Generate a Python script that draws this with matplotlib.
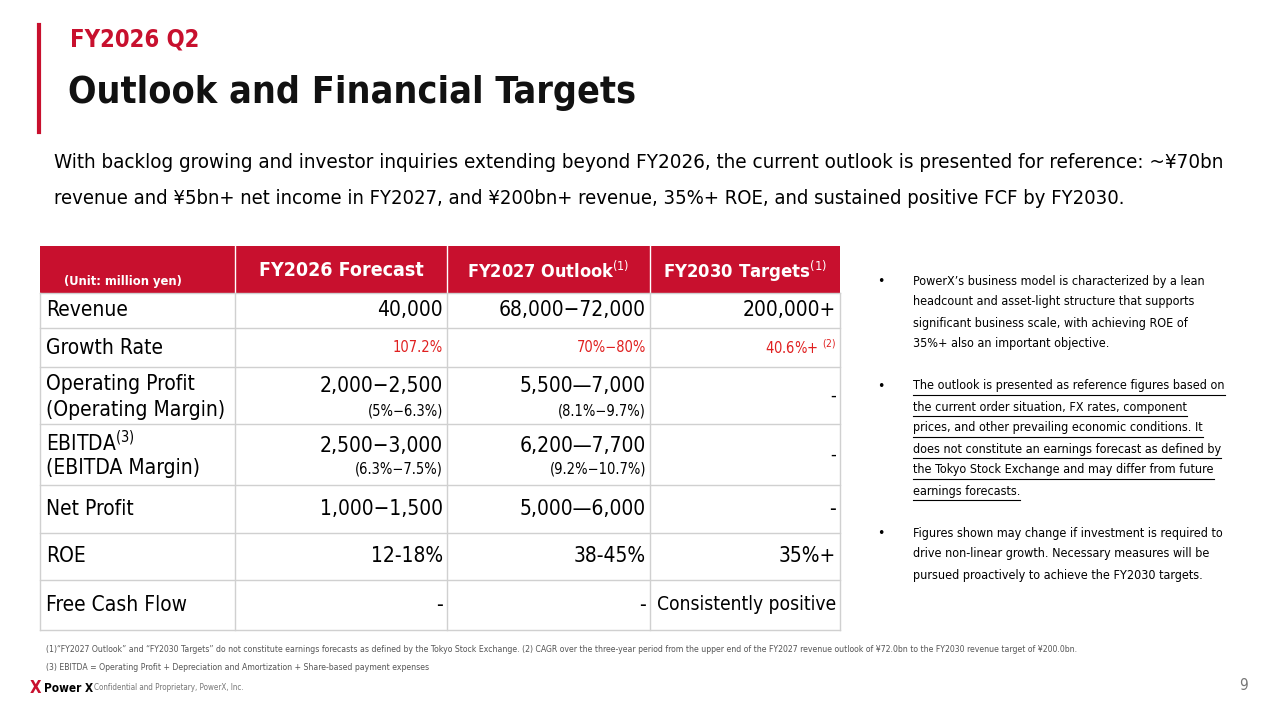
import matplotlib.pyplot as plt
from matplotlib.patches import Rectangle

plt.rcParams['font.family'] = ['DejaVu Sans Condensed', 'Liberation Sans Narrow', 'DejaVu Sans']
plt.rcParams['font.stretch'] = 'condensed'

RED = '#C8102E'
GRID = '#D0D0D0'

kicker = "FY2026 Q2"
title = "Outlook and Financial Targets"
lead = ["With backlog growing and investor inquiries extending beyond FY2026, the current outlook is presented for reference: ~¥70bn",
        "revenue and ¥5bn+ net income in FY2027, and ¥200bn+ revenue, 35%+ ROE, and sustained positive FCF by FY2030."]

headers = ["FY2026 Forecast", "FY2027 Outlook", "FY2030 Targets"]
header_sup = ["", "(1)", "(1)"]
row_labels = [["Revenue"], ["Growth Rate"], ["Operating Profit", "(Operating Margin)"],
              ["EBITDA$^{(3)}$", "(EBITDA Margin)"], ["Net Profit"], ["ROE"], ["Free Cash Flow"]]
main_vals = [["40,000", "68,000\u221272,000", "200,000+"],
             ["107.2%", "70%\u221280%", "40.6%+ $^{(2)}$"],
             ["2,000\u22122,500", "5,500\u20147,000", "-"],
             ["2,500\u22123,000", "6,200\u20147,700", "-"],
             ["1,000\u22121,500", "5,000\u20146,000", "-"],
             ["12-18%", "38-45%", "35%+"],
             ["-", "-", "Consistently positive"]]
sub_vals = [None, None, ["(5%\u22126.3%)", "(8.1%\u22129.7%)", ""],
            ["(6.3%\u22127.5%)", "(9.2%\u221210.7%)", ""], None, None, None]

col_x = [40, 235, 447, 650, 840]
row_y = [246, 293, 328, 367, 424, 485, 533, 580, 630]

bullets = [
    ["PowerX\u2019s business model is characterized by a lean", "headcount and asset-light structure that supports",
     "significant business scale, with achieving ROE of", "35%+ also an important objective."],
    ["The outlook is presented as reference figures based on", "the current order situation, FX rates, component",
     "prices, and other prevailing economic conditions. It", "does not constitute an earnings forecast as defined by",
     "the Tokyo Stock Exchange and may differ from future", "earnings forecasts."],
    ["Figures shown may change if investment is required to", "drive non-linear growth. Necessary measures will be",
     "pursued proactively to achieve the FY2030 targets."]]
notes = ["(1)\u201cFY2027 Outlook\u201d and \u201cFY2030 Targets\u201d do not constitute earnings forecasts as defined by the Tokyo Stock Exchange. (2) CAGR over the three-year period from the upper end of the FY2027 revenue outlook of ¥72.0bn to the FY2030 revenue target of ¥200.0bn.",
         "(3) EBITDA = Operating Profit + Depreciation and Amortization + Share-based payment expenses"]

fig = plt.figure(figsize=(12.8, 7.2), dpi=100)
ax = fig.add_axes([0, 0, 1, 1])
ax.set_xlim(0, 1280)
ax.set_ylim(720, 0)
ax.axis('off')
fig.canvas.draw()
rend = fig.canvas.get_renderer()


def fit(t, maxw):
    # shrink a text until it is no wider than maxw pixels
    while t.get_window_extent(rend).width > maxw and t.get_fontsize() > 5:
        t.set_fontsize(t.get_fontsize() - 0.25)
    return t


ax.plot([39, 39], [25, 132], color=RED, lw=3)
ax.text(70, 40, kicker, color=RED, fontsize=17, fontweight='bold', va='center')
fit(ax.text(68, 93, title, color='#111111', fontsize=36, fontweight='bold', va='center'), 572)
fit(ax.text(54, 163, lead[0], fontsize=18, va='center'), 1195)
fit(ax.text(54, 198, lead[1], fontsize=18, va='center'), 1076)

# header
ax.add_patch(Rectangle((col_x[0], row_y[0]), col_x[-1] - col_x[0], row_y[1] - row_y[0], color=RED, lw=0))
fit(ax.text(123, 282, "(Unit: million yen)", color='white', fontsize=11, fontweight='bold', ha='center', va='center'), 118)
for i, h in enumerate(headers):
    cx = (col_x[i + 1] + col_x[i + 2]) / 2
    fit(ax.text(cx, 271, h + (r"$^{" + header_sup[i] + "}$" if header_sup[i] else ""), color='white',
                fontsize=15, fontweight='bold', ha='center', va='center'), 165)
for x in col_x[1:-1]:
    ax.plot([x, x], [row_y[0], row_y[1]], color='white', lw=1)

# grid
for y in row_y[1:]:
    ax.plot([col_x[0], col_x[-1]], [y, y], color=GRID, lw=1)
for x in col_x:
    ax.plot([x, x], [row_y[1], row_y[-1]], color=GRID, lw=1)

for r in range(len(row_labels)):
    top, bot = row_y[r + 1], row_y[r + 2]
    mid = (top + bot) / 2
    lab = row_labels[r]
    if len(lab) == 1:
        ax.text(46, mid, lab[0], fontsize=15, va='center')
    else:
        ax.text(46, mid - 12, lab[0], fontsize=15, va='center')
        ax.text(46, mid + 14, lab[1], fontsize=15, va='center')
    for c in range(3):
        xr = col_x[c + 2] - 4
        cw = col_x[c + 2] - col_x[c + 1] - 8
        v = main_vals[r][c]
        if r == 1:
            ax.text(xr, mid, v, fontsize=10.5, color='#E02020', ha='right', va='center')
        elif sub_vals[r] is not None:
            if sub_vals[r][c]:
                ax.text(xr, mid - 9, v, fontsize=15, ha='right', va='center')
                ax.text(xr, mid + 15, sub_vals[r][c], fontsize=10.5, ha='right', va='center')
            else:
                ax.text(xr, mid, v, fontsize=13, ha='right', va='center')
        else:
            fit(ax.text(xr, mid, v, fontsize=15, ha='right', va='center'), cw)

# bullets: one common size that lets the longest line fit
bt = []
y = 281
for b, lines in enumerate(bullets):
    ax.text(877, y, "\u2022", fontsize=10, va='center')
    for line in lines:
        bt.append((b, y, ax.text(913, y, line, fontsize=11, va='center')))
        y += 21
    y += 21
size = min(fit(t, 312).get_fontsize() for _, _, t in bt)
for b, yy, t in bt:
    t.set_fontsize(size)
    if b == 1:
        w = t.get_window_extent(rend).width
        ax.plot([913, 913 + w], [yy + 9, yy + 9], color='black', lw=0.8)

fit(ax.text(46, 649, notes[0], fontsize=7.5, color='#555555', va='center'), 1052)
fit(ax.text(46, 667, notes[1], fontsize=7.5, color='#555555', va='center'), 388)
ax.text(30, 688, "X", color=RED, fontsize=12, fontweight='bold', va='center')
ax.text(44, 688, "Power X", fontsize=8.5, fontweight='bold', va='center')
fit(ax.text(94, 688, "Confidential and Proprietary, PowerX, Inc.", fontsize=7.5, color='#777777', va='center'), 152)
ax.text(1248, 686, "9", fontsize=11, color='#777777', ha='right', va='center')

fig.savefig("out.png", dpi=100)
